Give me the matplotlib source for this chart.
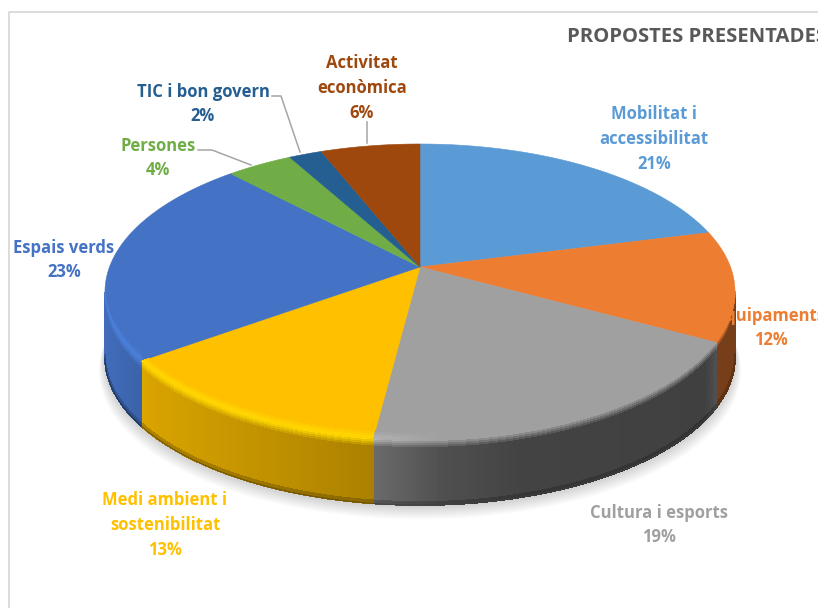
#!/usr/bin/env python3
import numpy as np
import matplotlib
matplotlib.use('Agg')
import matplotlib.pyplot as plt
from matplotlib.collections import PolyCollection
from matplotlib.colors import to_rgb
from matplotlib.patches import Polygon

title = 'PROPOSTES PRESENTADES'
labels = ['Mobilitat i\naccessibilitat', 'Equipaments', 'Cultura i esports',
          'Medi ambient i\nsostenibilitat', 'Espais verds', 'Persones',
          'TIC i bon govern', 'Activitat\neconòmica']
values = [21, 12, 19, 13, 23, 4, 2, 6]
colors = ['#5B9BD5', '#ED7D31', '#A0A0A0', '#FFC000',
          '#4472C4', '#70AD47', '#255E91', '#9E480E']
label_pos = [(654, 139), (771, 328), (659, 525), (165, 525),
             (64, 260), (158, 158), (203, 104), (362, 88)]

# perspective of the pie, in pixels
CX, CY = 420, 267
B, A, K = 310.5, 143.8, 0.169
DEPTH = 65


def project(theta):
    x, y = np.sin(theta), np.cos(theta)
    d = 1 + K * y
    return CX + B * x / d, CY - A * y / d


def side_shade(x):
    return np.interp(x, [105, 147, 372, 440, 520, 705, 715, 735],
                     [.95, .85, .67, .50, .42, .40, .5, .5])


def row_colors(base, x, dz):
    base = np.array(to_rgb(base))
    shade = side_shade(x)[:, None] * base
    high = np.interp(x, [105, 372, 440, 735], [.14, .14, 0, 0])[:, None]
    light = np.clip(base * (1 + high), 0, 1)
    if dz < 0:
        t = (dz + 8) / 8
        return (1 - t) * base + t * light
    if dz < 8:
        t = dz / 8
        return (1 - t) * light + t * shade
    if dz >= DEPTH - 3:
        return shade * .8
    return shade


def wall_quads(px, py, rows, color, taper):
    polys, cols = [], []
    for d0, d1 in zip(rows[:-1], rows[1:]):
        o0 = d0 * taper if d0 < 0 else d0 * np.ones_like(taper)
        o1 = d1 * taper if d1 < 0 else d1 * np.ones_like(taper)
        mid = row_colors(color, (px[:-1] + px[1:]) / 2, d0)
        for j in range(len(px) - 1):
            polys.append([(px[j], py[j] + o0[j]), (px[j + 1], py[j + 1] + o0[j + 1]),
                          (px[j + 1], py[j + 1] + o1[j + 1]), (px[j], py[j] + o1[j])])
            cols.append(mid[j])
    return polys, cols


def main():
    fig = plt.figure(figsize=(8.18, 6.08), dpi=100)
    ax = fig.add_axes([0, 0, 1, 1])
    ax.set_xlim(0, 818)
    ax.set_ylim(608, 0)
    ax.axis('off')

    # chart frame, cut on the right like the screenshot
    ax.plot([8.5, 8.5, 830], [620, 11.5, 11.5], color='#d9d9d9', lw=1.3)

    frac = np.cumsum([0] + values) / sum(values)
    edges = frac * 2 * np.pi

    # soft shadow under the front rim
    th = np.linspace(np.arccos(-K) - .25, 2 * np.pi - np.arccos(-K) + .25, 200)
    sx, sy = project(th)
    for i in range(16, 0, -1):
        ax.fill(CX + (sx - CX) * (1 + i * .0012), sy + DEPTH + i * .9,
                color='k', alpha=.01, lw=0, zorder=1)

    # visible side wall
    wall_rows = np.r_[np.arange(0, 9, 2), np.arange(12, DEPTH - 3, 6), DEPTH - 3, DEPTH]
    rim_rows = np.arange(-8, 1, 2)
    faces = []
    for i, c in enumerate(colors):
        t = np.linspace(edges[i], edges[i + 1], 160)
        px, py = project(t)
        faces.append(np.column_stack([np.r_[CX, px], np.r_[CY, py]]))
        t = t[np.cos(t) <= -K]
        if len(t) < 2:
            continue
        px, py = project(t)
        taper = np.clip((-K - np.cos(t)) / .25, 0, 1)
        polys, cols = wall_quads(px, py, wall_rows, c, taper)
        ax.add_collection(PolyCollection(polys, facecolors=cols, edgecolors=cols,
                                         linewidths=.6, antialiased=False, zorder=2))
        # smooth bottom edge
        ax.plot(px, py + DEPTH, color=np.array(to_rgb(c)) * .4, lw=.6, zorder=2.5)

    # top faces, then the bevel clipped to its own face
    for i, c in enumerate(colors):
        ax.add_patch(Polygon(faces[i], closed=True, facecolor=c, edgecolor=c, lw=.4, zorder=3))
        t = np.linspace(edges[i], edges[i + 1], 160)
        t = t[np.cos(t) <= -K]
        if len(t) < 2:
            continue
        px, py = project(t)
        taper = np.clip((-K - np.cos(t)) / .25, 0, 1)
        polys, cols = wall_quads(px, py, rim_rows, c, taper)
        rim = PolyCollection(polys, facecolors=cols, edgecolors=cols, linewidths=.6,
                             antialiased=False, zorder=3.5)
        ax.add_collection(rim)
        rim.set_clip_path(Polygon(faces[i], closed=True, transform=ax.transData))

    # leader lines
    ax.plot([272, 281, 300], [96, 96, 152], color='#a6a6a6', lw=1.1, zorder=4)
    ax.plot([198, 212, 251], [150, 150, 165], color='#a6a6a6', lw=1.1, zorder=4)
    ax.plot([367, 367], [122, 143], color='#a6a6a6', lw=1.1, zorder=4)

    for lab, v, c, (x, y) in zip(labels, values, colors, label_pos):
        ax.text(x, y, f'{lab}\n{v}%', color=c, ha='center', va='center', fontsize=12,
                family='Open Sans', weight='bold', linespacing=1.48, zorder=5)

    ax.text(567, 37, title, color='#595959', ha='left', va='center', fontsize=14.6,
            family='Open Sans', weight='bold')

    fig.savefig('out.png', dpi=100)


if __name__ == '__main__':
    main()
